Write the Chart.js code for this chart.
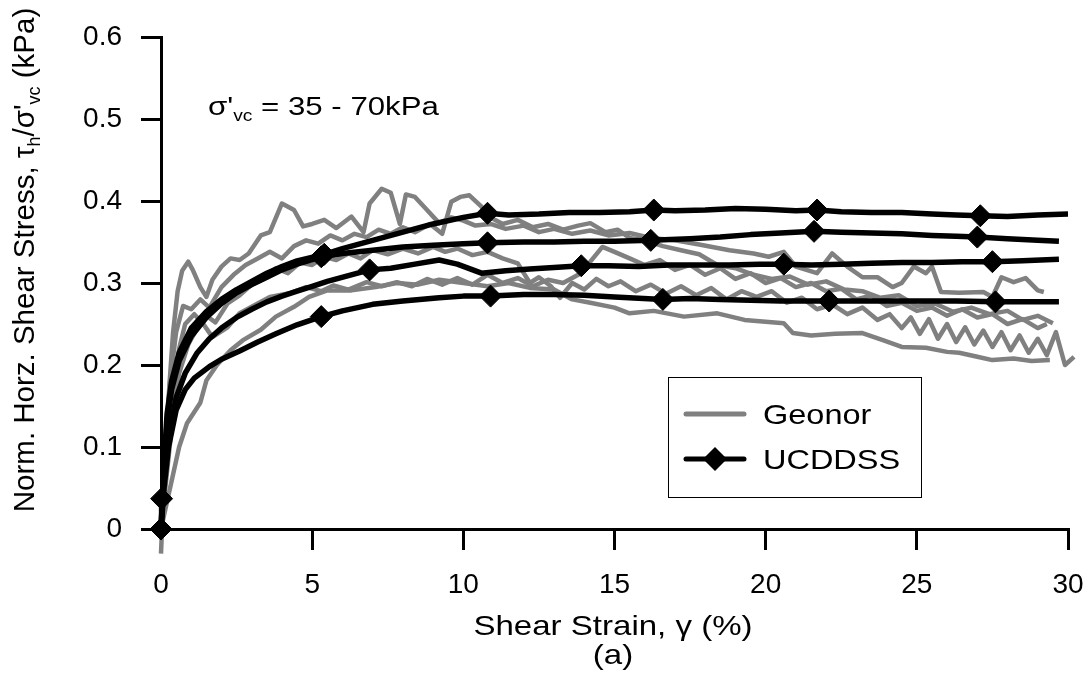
<!DOCTYPE html>
<html>
<head>
<meta charset="utf-8">
<script src="https://cdn.jsdelivr.net/npm/chart.js@4"></script>
<style>
  html, body { margin: 0; padding: 0; background: #fff; }
  #wrap { width: 1090px; height: 682px; }
</style>
</head>
<body>
<div id="wrap"><canvas id="chart" width="1090" height="682"></canvas></div>
<script>
// Normalised horizontal shear stress vs shear strain — Geonor vs UCDDSS
const FONT = '"Liberation Sans", Arial, sans-serif';

const xTicks = [0, 5, 10, 15, 20, 25, 30];
const yTickLabels = ["0", "0.1", "0.2", "0.3", "0.4", "0.5", "0.6"];

// UCDDSS (black, with diamonds)
const ucd1X = [0, 0.1, 0.2, 0.35, 0.6, 1.0, 1.5, 2.0, 2.5, 3.0, 3.5, 4.0, 4.5, 5.4, 6.0, 7.0, 8.0, 9.0, 10.0, 10.8, 11.5, 12.5, 13.5, 14.5, 15.5, 16.3, 17.0, 18.0, 19.0, 20.0, 21.0, 21.7, 22.5, 23.5, 24.5, 25.5, 26.3, 27.1, 28.0, 29.0, 30.0];
const ucd1Y = [0, 0.08, 0.14, 0.18, 0.215, 0.245, 0.265, 0.28, 0.292, 0.302, 0.312, 0.32, 0.327, 0.335, 0.342, 0.352, 0.362, 0.372, 0.38, 0.385, 0.383, 0.384, 0.386, 0.386, 0.387, 0.389, 0.388, 0.389, 0.391, 0.39, 0.388, 0.389, 0.387, 0.386, 0.386, 0.384, 0.383, 0.382, 0.381, 0.383, 0.384];
const ucd1Marks = [0, 5.4, 10.8, 16.3, 21.7, 27.1];

const ucd2X = [0, 0.1, 0.2, 0.35, 0.6, 1.0, 1.5, 2.0, 2.5, 3.0, 3.5, 4.0, 4.5, 5.3, 6.0, 7.0, 8.0, 9.0, 10.0, 10.8, 12.0, 13.0, 14.0, 15.0, 16.2, 17.5, 18.5, 19.5, 20.5, 21.6, 22.5, 23.5, 24.5, 25.5, 26.3, 27.0, 28.0, 29.0, 29.7];
const ucd2Y = [0, 0.07, 0.13, 0.17, 0.205, 0.235, 0.258, 0.275, 0.288, 0.298, 0.307, 0.316, 0.323, 0.332, 0.336, 0.34, 0.344, 0.346, 0.348, 0.349, 0.35, 0.35, 0.351, 0.351, 0.352, 0.354, 0.356, 0.359, 0.361, 0.363, 0.362, 0.361, 0.36, 0.358, 0.357, 0.356, 0.354, 0.352, 0.351];
const ucd2Marks = [5.3, 10.8, 16.2, 21.6, 27.0];

const ucd3X = [0, 0.02, 0.15, 0.3, 0.5, 0.8, 1.2, 1.6, 2.0, 2.5, 3.0, 3.5, 4.0, 4.5, 5.0, 5.5, 6.2, 6.9, 7.6, 8.4, 9.2, 9.8, 10.6, 11.4, 12.2, 13.0, 13.9, 14.8, 15.8, 16.8, 17.8, 18.8, 19.8, 20.6, 21.5, 22.5, 23.5, 24.5, 25.5, 26.5, 27.5, 28.5, 29.7];
const ucd3Y = [0, 0.037, 0.08, 0.12, 0.16, 0.19, 0.215, 0.232, 0.245, 0.258, 0.268, 0.277, 0.284, 0.29, 0.296, 0.302, 0.309, 0.316, 0.318, 0.323, 0.328, 0.323, 0.312, 0.315, 0.317, 0.319, 0.321, 0.321, 0.32, 0.322, 0.322, 0.322, 0.323, 0.323, 0.322, 0.323, 0.324, 0.325, 0.325, 0.326, 0.326, 0.327, 0.329];
const ucd3Marks = [0.02, 6.9, 13.9, 20.6, 27.5];

const ucd4X = [0, 0.1, 0.25, 0.5, 0.8, 1.1, 1.6, 2.0, 2.6, 3.2, 3.8, 4.5, 5.3, 6.0, 7.0, 8.0, 9.2, 10.0, 10.9, 12.0, 13.0, 14.0, 15.0, 16.6, 17.5, 18.5, 19.5, 20.5, 22.1, 23.5, 25.0, 26.3, 27.6, 28.5, 29.7];
const ucd4Y = [0, 0.05, 0.1, 0.145, 0.17, 0.184, 0.198, 0.207, 0.217, 0.228, 0.238, 0.249, 0.259, 0.266, 0.274, 0.278, 0.282, 0.284, 0.284, 0.286, 0.286, 0.285, 0.283, 0.28, 0.281, 0.28, 0.279, 0.278, 0.278, 0.278, 0.278, 0.278, 0.277, 0.277, 0.277];
const ucd4Marks = [0, 5.3, 10.9, 16.6, 22.1, 27.6];

// Geonor (grey)
const geo1X = [0, 0.1, 0.25, 0.4, 0.55, 0.7, 0.9, 1.05, 1.3, 1.5, 1.7, 2.0, 2.3, 2.6, 2.9, 3.3, 3.6, 4.0, 4.4, 4.7, 5.0, 5.4, 5.8, 6.3, 6.7, 6.9, 7.3, 7.6, 7.9, 8.1, 8.4, 8.8, 9.2, 9.6, 10.0, 10.4, 10.9, 11.4, 12.0, 12.5, 13.0, 13.6, 14.2, 14.8, 15.5, 16.2, 17.0, 17.8, 18.8, 19.6, 20.1, 20.6, 21.0, 21.7, 22.2, 22.7, 23.2, 23.7, 24.2, 24.5, 24.9, 25.3, 25.5, 25.8, 26.4, 27.2, 27.5, 27.8, 28.2, 28.6, 29.0, 29.2];
const geo1Y = [-0.03, 0.06, 0.16, 0.24, 0.29, 0.315, 0.326, 0.316, 0.295, 0.283, 0.304, 0.32, 0.33, 0.328, 0.336, 0.358, 0.362, 0.397, 0.389, 0.369, 0.372, 0.377, 0.367, 0.381, 0.362, 0.397, 0.415, 0.41, 0.372, 0.408, 0.405, 0.389, 0.373, 0.38, 0.376, 0.37, 0.372, 0.366, 0.37, 0.362, 0.366, 0.36, 0.364, 0.358, 0.361, 0.355, 0.352, 0.347, 0.34, 0.336, 0.332, 0.338, 0.32, 0.312, 0.336, 0.32, 0.307, 0.307, 0.295, 0.3, 0.32, 0.312, 0.32, 0.289, 0.288, 0.289, 0.283, 0.307, 0.301, 0.306, 0.291, 0.289];

const geo2X = [0, 0.15, 0.3, 0.5, 0.73, 1.0, 1.3, 1.6, 2.0, 2.4, 2.8, 3.2, 3.6, 4.0, 4.4, 4.8, 5.2, 5.6, 6.0, 6.4, 6.8, 7.2, 7.6, 8.0, 8.4, 8.9, 9.3, 9.6, 9.9, 10.2, 10.6, 10.9, 11.3, 11.8, 12.3, 12.8, 13.3, 13.8, 14.2, 14.7, 15.1, 15.5, 16.0, 16.6, 17.2, 17.8, 18.4, 19.0, 19.6, 20.2, 20.8, 21.4, 22.0, 22.6, 23.2, 23.8, 24.4, 25.0, 25.6, 26.2, 26.8, 27.4, 28.0, 28.5, 29.0, 29.5];
const geo2Y = [0, 0.1, 0.18, 0.24, 0.272, 0.268, 0.28, 0.27, 0.295, 0.31, 0.322, 0.33, 0.338, 0.33, 0.345, 0.352, 0.348, 0.358, 0.352, 0.36, 0.356, 0.365, 0.36, 0.368, 0.362, 0.372, 0.36, 0.399, 0.405, 0.407, 0.393, 0.38, 0.372, 0.377, 0.368, 0.372, 0.365, 0.37, 0.373, 0.362, 0.365, 0.355, 0.352, 0.345, 0.34, 0.335, 0.322, 0.318, 0.31, 0.305, 0.308, 0.298, 0.302, 0.292, 0.29, 0.282, 0.285, 0.272, 0.275, 0.265, 0.27, 0.262, 0.266, 0.255, 0.26, 0.251];

const geo3X = [0, 0.2, 0.4, 0.6, 0.9, 1.2, 1.5, 1.8, 2.2, 2.6, 3.0, 3.4, 3.8, 4.2, 4.6, 5.0, 5.4, 5.8, 6.2, 6.6, 7.0, 7.5, 8.0, 8.5, 9.0, 9.4, 9.8, 10.3, 10.8, 11.3, 11.8, 12.0, 12.2, 12.5, 12.9, 13.2, 13.6, 14.0, 14.4, 14.8, 15.2, 15.7, 16.2, 16.7, 17.2, 17.7, 18.2, 18.7, 19.2, 19.7, 20.2, 20.7, 21.2, 21.7, 22.2, 22.7, 23.2, 23.7, 24.1, 24.5, 24.8, 25.1, 25.4, 25.7, 26.0, 26.3, 26.6, 26.9, 27.2, 27.5, 27.8, 28.1, 28.4, 28.7, 29.0, 29.3, 29.6, 29.9, 30.2, 30.4, 30.6];
const geo3Y = [0, 0.07, 0.14, 0.19, 0.225, 0.245, 0.26, 0.252, 0.275, 0.285, 0.298, 0.305, 0.318, 0.312, 0.325, 0.322, 0.332, 0.328, 0.336, 0.33, 0.34, 0.335, 0.342, 0.336, 0.344, 0.338, 0.342, 0.334, 0.338, 0.33, 0.324, 0.312, 0.3, 0.307, 0.296, 0.282, 0.3, 0.292, 0.305, 0.296, 0.302, 0.29, 0.298, 0.287, 0.296, 0.285, 0.294, 0.28, 0.29, 0.283, 0.29, 0.276, 0.282, 0.268, 0.274, 0.262, 0.27, 0.255, 0.262, 0.245, 0.258, 0.238, 0.256, 0.232, 0.25, 0.228, 0.246, 0.225, 0.242, 0.222, 0.24, 0.218, 0.236, 0.215, 0.232, 0.212, 0.24, 0.2, 0.21, 0.198, 0.197];

const geo4X = [0, 0.2, 0.4, 0.6, 0.8, 1.1, 1.4, 1.7, 2.2, 2.6, 3.2, 3.6, 4.3, 4.8, 5.3, 5.7, 6.2, 6.8, 7.3, 7.8, 8.3, 8.8, 9.3, 9.8, 10.3, 10.8, 11.3, 11.8, 12.3, 12.8, 13.3, 13.8, 14.2, 14.6, 15.0, 15.5, 16.0, 16.5, 17.0, 17.5, 18.0, 18.5, 19.0, 19.5, 20.0, 20.5, 21.0, 21.5, 22.0, 22.5, 23.0, 23.5, 24.0, 24.5, 25.0, 25.5, 26.0, 26.5, 27.0, 27.5, 28.0, 28.5, 29.0, 29.3];
const geo4Y = [0, 0.08, 0.16, 0.22, 0.25, 0.262, 0.25, 0.234, 0.246, 0.263, 0.275, 0.283, 0.288, 0.295, 0.29, 0.297, 0.292, 0.301, 0.296, 0.301, 0.296, 0.305, 0.298, 0.306, 0.298, 0.31, 0.3, 0.306, 0.296, 0.304, 0.3, 0.31, 0.326, 0.344, 0.338, 0.33, 0.322, 0.328, 0.316, 0.322, 0.31, 0.318, 0.305, 0.312, 0.3, 0.306, 0.295, 0.3, 0.29, 0.293, 0.28, 0.285, 0.272, 0.276, 0.266, 0.27, 0.26, 0.268, 0.258, 0.262, 0.25, 0.256, 0.245, 0.25];

const geo5X = [0, 0.3, 0.6, 0.86, 1.3, 1.5, 1.85, 2.3, 2.7, 3.3, 3.8, 4.4, 4.9, 5.5, 6.3, 7.1, 7.8, 8.5, 9.2, 10.0, 10.8, 11.5, 12.2, 13.0, 13.6, 14.2, 15.0, 15.5, 16.3, 17.3, 18.4, 19.3, 20.6, 20.9, 21.5, 22.3, 23.2, 23.9, 24.5, 25.3, 26.0, 26.4, 27.0, 27.5, 28.2, 28.8, 29.4];
const geo5Y = [0, 0.05, 0.1, 0.129, 0.154, 0.181, 0.2, 0.218, 0.23, 0.243, 0.259, 0.271, 0.283, 0.291, 0.291, 0.295, 0.3, 0.298, 0.304, 0.3, 0.296, 0.3, 0.294, 0.292, 0.28, 0.276, 0.27, 0.263, 0.266, 0.259, 0.263, 0.255, 0.251, 0.239, 0.236, 0.238, 0.239, 0.23, 0.222, 0.221, 0.216, 0.215, 0.21, 0.206, 0.208, 0.205, 0.206];

const zip = (xs, ys) => xs.map((x, i) => ({ x, y: ys[i] }));

function ucdSet(xs, ys, marks) {
	return {
		label: "UCDDSS",
		data: zip(xs, ys),
		borderColor: "#000",
		backgroundColor: "#000",
		borderWidth: 5.5,
		pointStyle: "rectRot",
		pointRadius: (c) => (marks.includes(c.raw.x) ? 11 : 0),
		pointHoverRadius: (c) => (marks.includes(c.raw.x) ? 11 : 0),
		pointBorderWidth: 1,
		tension: 0,
		clip: false,
		borderJoinStyle: "round",
		order: 0,
	};
}

function geoSet(xs, ys) {
	return {
		label: "Geonor",
		data: zip(xs, ys),
		borderColor: "#808080",
		borderWidth: 4.5,
		pointRadius: 0,
		tension: 0,
		clip: false,
		borderJoinStyle: "round",
		order: 1,
	};
}

// text pieces with subscripts; sx stretches the glyphs sideways like the original
function drawRich(ctx, parts, x, y, size, align, sx = 1) {
	const subSize = Math.round(size * 0.62);
	let total = 0;
	parts.forEach((p) => {
		ctx.font = (p.sub ? subSize : size) + "px " + FONT;
		p.w = ctx.measureText(p.t).width * sx;
		total += p.w;
	});
	let cx = align === "center" ? x - total / 2 : x;
	ctx.textAlign = "left";
	ctx.textBaseline = "alphabetic";
	parts.forEach((p) => {
		ctx.font = (p.sub ? subSize : size) + "px " + FONT;
		ctx.save();
		ctx.translate(cx, p.sub ? y + size * 0.22 : y);
		ctx.scale(sx, 1);
		ctx.fillText(p.t, 0, 0);
		ctx.restore();
		cx += p.w;
	});
}

const textPlugin = {
	id: "texts",
	afterDraw(chart) {
		const ctx = chart.ctx;
		ctx.save();
		ctx.fillStyle = "#000";

		// y title, rotated
		ctx.save();
		ctx.translate(34, 260);
		ctx.rotate(-Math.PI / 2);
		drawRich(ctx, [
			{ t: "Norm. Horz. Shear Stress, τ" },
			{ t: "h", sub: true },
			{ t: "/σ'" },
			{ t: "vc", sub: true },
			{ t: " (kPa)" },
		], 0, 0, 29.5, "center", 1);
		ctx.restore();

		// x title
		drawRich(ctx, [{ t: "Shear Strain, γ (%)" }], 613, 635, 28, "center", 1.18);
		drawRich(ctx, [{ t: "(a)" }], 613, 664, 28, "center", 1.18);

		// annotation
		drawRich(ctx, [
			{ t: "σ'" },
			{ t: "vc", sub: true },
			{ t: " = 35 - 70kPa" },
		], 208, 115, 26, "left", 1.2);

		// legend box
		ctx.fillStyle = "#fff";
		ctx.fillRect(668, 377, 253, 120);
		ctx.strokeStyle = "#000";
		ctx.lineWidth = 1;
		ctx.strokeRect(668.5, 377.5, 253, 120);

		ctx.lineCap = "round";
		ctx.strokeStyle = "#808080";
		ctx.lineWidth = 5;
		ctx.beginPath();
		ctx.moveTo(686, 414);
		ctx.lineTo(744, 414);
		ctx.stroke();

		ctx.strokeStyle = "#000";
		ctx.beginPath();
		ctx.moveTo(686, 459);
		ctx.lineTo(744, 459);
		ctx.stroke();
		ctx.fillStyle = "#000";
		ctx.beginPath();
		ctx.moveTo(715, 447);
		ctx.lineTo(727, 459);
		ctx.lineTo(715, 471);
		ctx.lineTo(703, 459);
		ctx.closePath();
		ctx.fill();

		drawRich(ctx, [{ t: "Geonor" }], 763, 424, 28, "left", 1.16);
		drawRich(ctx, [{ t: "UCDDSS" }], 763, 469, 28, "left", 1.16);
		ctx.restore();
	},
};

new Chart(document.getElementById("chart"), {
	type: "line",
	data: {
		datasets: [
			ucdSet(ucd1X, ucd1Y, ucd1Marks),
			ucdSet(ucd2X, ucd2Y, ucd2Marks),
			ucdSet(ucd3X, ucd3Y, ucd3Marks),
			ucdSet(ucd4X, ucd4Y, ucd4Marks),
			geoSet(geo1X, geo1Y),
			geoSet(geo2X, geo2Y),
			geoSet(geo3X, geo3Y),
			geoSet(geo4X, geo4Y),
			geoSet(geo5X, geo5Y),
		],
	},
	options: {
		responsive: false,
		animation: false,
		devicePixelRatio: 1,
		layout: { padding: { top: 37, right: 22, left: 0, bottom: 0 } },
		plugins: { legend: { display: false }, tooltip: { enabled: false } },
		scales: {
			x: {
				type: "linear",
				min: 0,
				max: 30,
				afterBuildTicks: (s) => { s.ticks = xTicks.map((v) => ({ value: v })); },
				afterFit: (s) => {
					s.height = 153;
					s.paddingLeft = 0;
					s.paddingRight = 0;
				},
				ticks: { color: "#000", font: { family: FONT, size: 28 }, padding: 18, maxRotation: 0 },
				grid: { drawOnChartArea: false, color: "#000", lineWidth: 3, tickLength: 21 },
				border: { color: "#000", width: 3 },
			},
			y: {
				min: 0,
				max: 0.6,
				ticks: {
					stepSize: 0.1,
					color: "#000",
					font: { family: FONT, size: 28 },
					padding: 19,
					callback: (v, i) => yTickLabels[i],
				},
				afterFit: (s) => {
					s.width = 161;
					s.paddingTop = 0;
					s.paddingBottom = 0;
				},
				grid: { drawOnChartArea: false, color: "#000", lineWidth: 3, tickLength: 20 },
				border: { color: "#000", width: 3 },
			},
		},
	},
	plugins: [textPlugin],
});
</script>
</body>
</html>
